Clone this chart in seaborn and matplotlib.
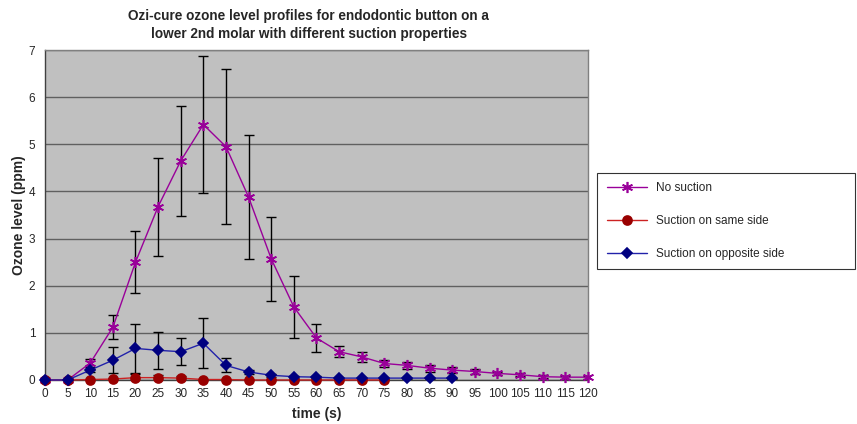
import numpy as np
import pandas as pd
import matplotlib
matplotlib.use("Agg")
import matplotlib.pyplot as plt
import seaborn as sns

# time points (s)
times = list(range(0, 125, 5))

# No suction: mean and error
no_suction = [0.0, 0.0, 0.36, 1.12, 2.50, 3.68, 4.65, 5.42, 4.95, 3.88, 2.57, 1.55, 0.89,
              0.60, 0.49, 0.35, 0.31, 0.25, 0.21, 0.18, 0.14, 0.11, 0.07, 0.06, 0.06]
no_suction_err = [0.0, 0.0, 0.08, 0.26, 0.66, 1.04, 1.16, 1.45, 1.65, 1.32, 0.89, 0.66, 0.29,
                  0.12, 0.10, 0.08, 0.08, 0.07, 0.07, 0.05, 0.04, 0.03, 0.03, 0.03, 0.03]

# Suction on same side (0-75 s)
same_side = [0.0, 0.0, 0.01, 0.02, 0.05, 0.05, 0.04, 0.01, 0.01, 0.0, 0.0, 0.0, 0.0,
             0.0, 0.0, 0.0]
same_side_err = [0.0, 0.0, 0.01, 0.03, 0.08, 0.06, 0.04, 0.01, 0.01, 0.01, 0.0, 0.0, 0.0,
                 0.0, 0.0, 0.0]

# Suction on opposite side (0-90 s)
opposite_side = [0.0, 0.0, 0.21, 0.42, 0.67, 0.63, 0.60, 0.78, 0.31, 0.17, 0.10, 0.07, 0.06,
                 0.04, 0.04, 0.04, 0.04, 0.04, 0.04]
opposite_side_err = [0.0, 0.0, 0.03, 0.27, 0.52, 0.39, 0.29, 0.53, 0.15, 0.05, 0.03, 0.02, 0.02,
                     0.01, 0.01, 0.01, 0.01, 0.01, 0.01]

series = [
    ("No suction", no_suction, no_suction_err, "#990099", "#990099", (6, 2, 0), 8),
    ("Suction on same side", same_side, same_side_err, "#990000", "#CC2222", "o", 6.5),
    ("Suction on opposite side", opposite_side, opposite_side_err, "#000080", "#2222AA", "D", 5.5),
]

sns.set_style("white")
plt.rcParams["font.family"] = ["Liberation Sans", "DejaVu Sans"]

fig = plt.figure(figsize=(8.57, 4.24), dpi=100)
ax = fig.add_axes([0.0525, 0.1038, 0.6336, 0.778])
ax.set_facecolor("#C0C0C0")

handles = []
for name, vals, errs, mcolor, lcolor, marker, ms in series:
    t = times[:len(vals)]
    ax.errorbar(t, vals, yerr=errs, fmt="none", ecolor="black", elinewidth=1,
                capsize=3.5, capthick=1, zorder=2)
    sns.lineplot(x=t, y=vals, ax=ax, color=lcolor, linewidth=1, marker=marker,
                 markersize=ms, markeredgecolor=mcolor, markerfacecolor=mcolor,
                 markeredgewidth=1.2, zorder=3, clip_on=False)
    h, = ax.plot([], [], color=lcolor, linewidth=1, marker=marker, markersize=ms,
                 markeredgecolor=mcolor, markerfacecolor=mcolor, markeredgewidth=1.2)
    handles.append((h, name))

ax.set_xlim(0, 120)
ax.set_ylim(0, 7)
ax.set_xticks(times)
ax.set_xticklabels([str(t) for t in times], fontsize=8.5)
ax.set_yticks(range(0, 8))
ax.set_yticklabels([str(v) for v in range(0, 8)], fontsize=8.5)
ax.tick_params(axis="y", direction="out", length=5, width=0.8, color="#404040", pad=2)
ax.tick_params(axis="x", direction="out", length=3, width=0.8, color="#404040", pad=3)
ax.yaxis.grid(True, color="#606060", linewidth=1)
ax.set_axisbelow(True)
for side, sp in ax.spines.items():
    sp.set_color("#808080")
    sp.set_linewidth(1)
ax.spines["left"].set_color("#404040")
ax.spines["bottom"].set_color("#404040")

ax.set_xlabel("time (s)", fontsize=10, fontweight="bold", labelpad=5)
ax.set_ylabel("Ozone level (ppm)", fontsize=10, fontweight="bold", labelpad=2)
fig.text(0.36, 0.941, "Ozi-cure ozone level profiles for endodontic button on a\n"
         "lower 2nd molar with different suction properties",
         ha="center", va="center", fontsize=9.8, fontweight="bold", linespacing=1.3)

leg = fig.legend([h for h, _ in handles], [n for _, n in handles],
                 loc="upper left", bbox_to_anchor=(0.697, 0.370, 0.301, 0.222),
                 mode="expand", fontsize=8.5, frameon=True, fancybox=False,
                 edgecolor="black", borderpad=0.8, labelspacing=1.75,
                 handlelength=3.4, handletextpad=0.8, borderaxespad=0)
leg.get_frame().set_linewidth(0.8)

fig.savefig("out.png", dpi=100)
